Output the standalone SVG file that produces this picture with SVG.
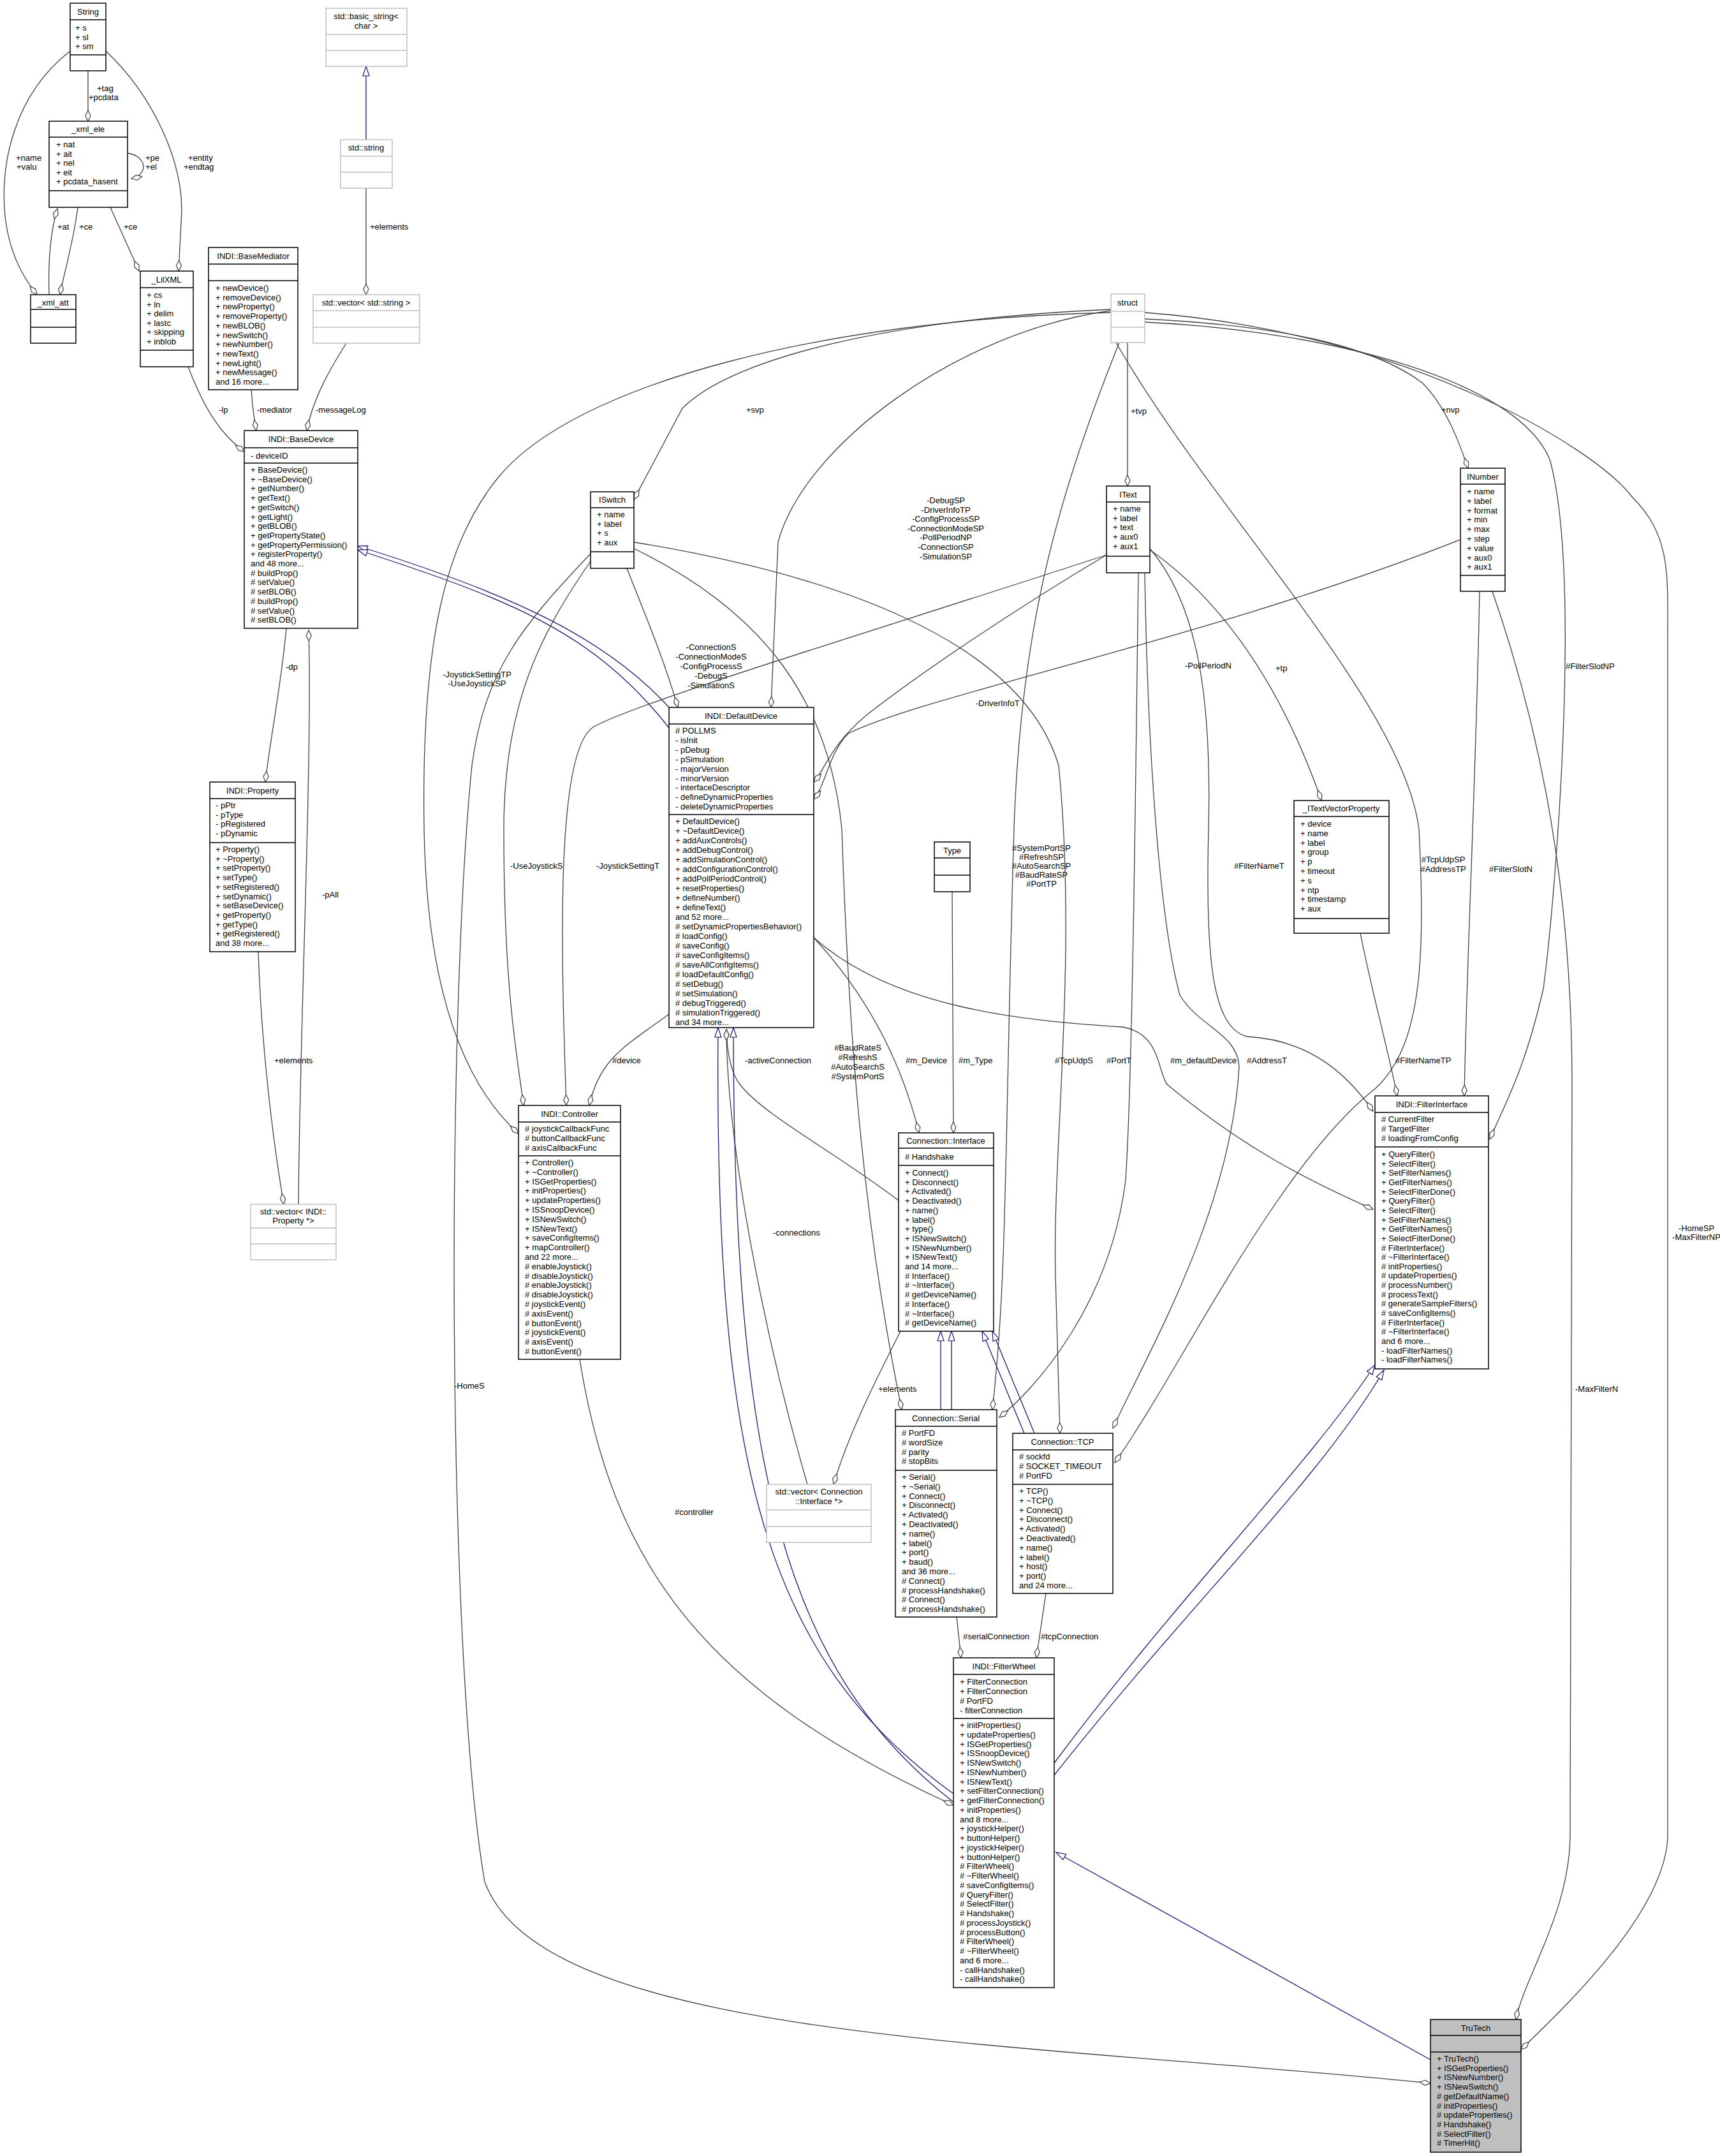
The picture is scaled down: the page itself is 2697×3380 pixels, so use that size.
<svg xmlns="http://www.w3.org/2000/svg" width="2697" height="3380" viewBox="0 0 2697 3380">
<style>
text{font-family:"Liberation Sans",Arial,sans-serif;font-size:13px;fill:#000}
.h{text-anchor:middle}
.b{fill:#fff;stroke:#000;stroke-width:1.5}
.g{fill:#fff;stroke:#bfbfbf;stroke-width:1.5}
.t{fill:#bfbfbf;stroke:#000;stroke-width:1.5}
.e{fill:none;stroke:#404040;stroke-width:1.3;marker-end:url(#dia)}
.i{fill:none;stroke:#191970;stroke-width:1.3;marker-end:url(#tri)}
.l{text-anchor:middle}
</style>
<defs>
<marker id="dia" markerUnits="userSpaceOnUse" markerWidth="20" markerHeight="12" refX="18" refY="5" orient="auto"><path d="M1,5 L9.5,1 L18,5 L9.5,9 z" fill="#fff" stroke="#404040" stroke-width="1.2"/></marker>
<marker id="tri" markerUnits="userSpaceOnUse" markerWidth="18" markerHeight="14" refX="16" refY="6" orient="auto"><path d="M1,1 L16,6 L1,11 z" fill="#fff" stroke="#191970" stroke-width="1.2"/></marker>
</defs>
<rect width="2697" height="3380" fill="#fff"/>

<g id="edges">
<path class="e" d="M138,111 L138,190"/>
<text x="152" y="143">+tag</text><text x="139" y="157">+pcdata</text>
<path class="e" d="M110,80 C20,150 0,260 8,340 C15,400 40,440 58,462"/>
<text x="25" y="252">+name</text><text x="26" y="266">+valu</text>
<path class="e" d="M166,80 C240,150 285,250 285,330 L280,425"/>
<text x="295" y="252">+entity</text><text x="288" y="266">+endtag</text>
<path class="e" d="M200,240 C232,245 232,275 206,280"/>
<text x="228" y="252">+pe</text><text x="228" y="266">+el</text>
<path class="e" d="M77,462 C75,400 80,360 90,327"/>
<text x="90" y="360">+at</text>
<path class="e" d="M122,325 C115,380 100,430 94,462"/>
<text x="124" y="360">+ce</text>
<path class="e" d="M173,325 L218,425"/>
<text x="194" y="360">+ce</text>
<path class="i" d="M574,219 L574,104"/>
<path class="e" d="M574,295 L574,462"/>
<text x="580" y="360">+elements</text>
<path class="e" d="M543,538 C510,590 490,630 481,675"/>
<text x="495" y="647">-messageLog</text>
<path class="e" d="M394,611 C396,640 398,655 402,675"/>
<text x="403" y="647">-mediator</text>
<path class="e" d="M295,575 C320,640 345,680 383,708"/>
<text x="343" y="647">-lp</text>
<path class="e" d="M449,985 C440,1080 425,1150 416,1226"/>
<text x="448" y="1050">-dp</text>
<path class="e" d="M468,1888 C470,1600 490,1200 484,988"/>
<text x="505" y="1407">-pAll</text>
<path class="e" d="M405,1492 C410,1650 430,1800 445,1888"/>
<text x="430" y="1667">+elements</text>
<path class="i" d="M1049,1109 C950,1000 800,930 561,856"/>
<path class="i" d="M1049,1141 C930,990 800,940 561,862"/>
<path class="e" d="M1742,485 C1400,500 1150,560 1070,640 L994,783"/>
<text x="1170" y="647">+svp</text>
<path class="e" d="M1742,487 C1500,520 1260,700 1220,850 L1209,1109"/>
<text class="l" x="1483" y="789">-DebugSP</text><text class="l" x="1483" y="803.6">-DriverInfoTP</text><text class="l" x="1483" y="818.2">-ConfigProcessSP</text><text class="l" x="1483" y="832.8">-ConnectionModeSP</text><text class="l" x="1483" y="847.4">-PollPeriodNP</text><text class="l" x="1483" y="862">-ConnectionSP</text><text class="l" x="1483" y="876.6">-SimulationSP</text>
<path class="e" d="M983,891 C1010,960 1040,1030 1063,1109"/>
<text class="l" x="1115" y="1019">-ConnectionS</text><text class="l" x="1115" y="1034">-ConnectionModeS</text><text class="l" x="1115" y="1049">-ConfigProcessS</text><text class="l" x="1115" y="1064">-DebugS</text><text class="l" x="1115" y="1079">-SimulationS</text>
<path class="e" d="M1735,870 C1600,950 1450,1050 1360,1120 C1300,1170 1295,1205 1276,1226"/>
<text x="1530" y="1107">-DriverInfoT</text>
<path class="e" d="M2290,846 C1900,1000 1450,1090 1330,1150 C1300,1180 1295,1230 1276,1253"/>
<text x="1858" y="1048">-PollPeriodN</text>
<path class="e" d="M1768,537 L1768,762"/>
<text x="1773" y="649">+tvp</text>
<path class="e" d="M1795,500 C2000,510 2150,540 2230,600 C2270,640 2290,700 2302,734"/>
<text x="2260" y="647">+nvp</text>
<path class="e" d="M1803,862 C1900,930 2000,1050 2072,1255"/>
<text x="2000" y="1052">+tp</text>
<path class="e" d="M1742,490 C1300,500 900,600 780,750 C700,850 660,1000 665,1300 C670,1600 750,1720 813,1777"/>
<text class="l" x="748" y="1062">-JoystickSettingTP</text><text class="l" x="748" y="1076">-UseJoystickSP</text>
<path class="e" d="M926,880 C850,990 790,1100 790,1300 C790,1550 810,1650 821,1733"/>
<text x="800" y="1362">-UseJoystickS</text>
<path class="e" d="M926,868 C820,980 760,1050 740,1200 C700,1600 700,2600 760,2950 C850,3200 1600,3200 2243,3266"/>
<text x="712" y="2177">-HomeS</text>
<path class="e" d="M1735,870 C1400,980 1000,1100 930,1140 C870,1180 880,1500 888,1733"/>
<text x="935" y="1362">-JoystickSettingT</text>
<path class="e" d="M1049,1590 C980,1640 940,1660 924,1733"/>
<text x="960" y="1667">#device</text>
<path class="e" d="M1276,1470 C1350,1550 1410,1650 1441,1776"/>
<text x="1420" y="1667">#m_Device</text>
<path class="e" d="M1493,1398 L1495,1776"/>
<text x="1503" y="1667">#m_Type</text>
<path class="e" d="M1409,1882 C1300,1800 1200,1750 1160,1700 C1145,1680 1140,1650 1139,1614"/>
<text x="1168" y="1667">-activeConnection</text>
<path class="e" d="M1266,2327 C1200,2100 1140,1800 1139,1614"/>
<text x="1212" y="1937">-connections</text>
<path class="e" d="M1412,2087 C1370,2170 1330,2250 1307,2327"/>
<text x="1377" y="2182">+elements</text>
<path class="i" d="M1475,2210 L1475,2087"/>
<path class="i" d="M1492,2210 L1492,2087"/>
<path class="i" d="M1606,2247 L1540,2087"/>
<path class="i" d="M1622,2247 L1556,2087"/>
<path class="e" d="M994,860 C1200,960 1300,1100 1320,1300 C1330,1600 1350,1900 1414,2210"/>
<text class="l" x="1345" y="1647">#BaudRateS</text><text class="l" x="1345" y="1662">#RefreshS</text><text class="l" x="1345" y="1677">#AutoSearchS</text><text class="l" x="1345" y="1692">#SystemPortS</text>
<path class="e" d="M1755,537 C1650,800 1600,1000 1590,1300 C1575,1800 1580,2000 1556,2210"/>
<text class="l" x="1633" y="1334">#SystemPortSP</text><text class="l" x="1633" y="1348">#RefreshSP</text><text class="l" x="1633" y="1362">#AutoSearchSP</text><text class="l" x="1633" y="1376">#BaudRateSP</text><text class="l" x="1633" y="1390">#PortTP</text>
<path class="e" d="M1785,898 C1780,1300 1775,1700 1765,1850 C1740,2050 1620,2180 1567,2222"/>
<text x="1735" y="1667">#PortT</text>
<path class="e" d="M994,850 C1300,900 1600,1000 1660,1200 C1690,1500 1650,1800 1655,2000 L1662,2247"/>
<text x="1654" y="1667">#TcpUdpS</text>
<path class="e" d="M1795,898 C1800,1200 1820,1450 1850,1560 C1880,1610 1940,1620 1943,1672 C1930,1900 1800,2120 1745,2239"/>
<text x="1955" y="1667">#AddressT</text>
<path class="e" d="M1750,537 C1900,800 2200,1100 2225,1300 C2235,1500 2230,1640 2156,1707 C2000,1830 1850,2150 1748,2293"/>
<text class="l" x="2263" y="1352">#TcpUdpSP</text><text class="l" x="2263" y="1367">#AddressTP</text>
<path class="e" d="M1803,860 C1880,950 1900,1100 1895,1300 C1890,1500 1900,1610 1955,1625 C2050,1630 2110,1680 2153,1742"/>
<text x="1935" y="1362">#FilterNameT</text>
<path class="e" d="M2133,1463 C2150,1550 2175,1640 2191,1718"/>
<text x="2188" y="1667">#FilterNameTP</text>
<path class="e" d="M2320,927 C2315,1200 2300,1500 2296,1718"/>
<text x="2335" y="1367">#FilterSlotN</text>
<path class="e" d="M1795,505 C2100,520 2380,600 2430,720 C2480,900 2440,1400 2420,1550 C2390,1680 2360,1730 2336,1786"/>
<text x="2455" y="1049">#FilterSlotNP</text>
<path class="e" d="M1276,1470 C1400,1580 1600,1600 1760,1610 C1820,1620 1815,1680 1830,1700 C1950,1800 2050,1850 2153,1896"/>
<text x="1835" y="1667">#m_defaultDevice</text>
<path class="i" d="M1653,2764 C1850,2500 2050,2300 2156,2140"/>
<path class="i" d="M1653,2783 C1860,2520 2070,2320 2170,2148"/>
<path class="i" d="M1495,2812 C1200,2600 1120,2300 1126,1611"/>
<path class="i" d="M1495,2825 C1230,2620 1150,2300 1150,1611"/>
<path class="e" d="M909,2131 C960,2450 1100,2650 1495,2830"/>
<text x="1058" y="2375">#controller</text>
<path class="e" d="M1500,2535 L1507,2599"/>
<text x="1510" y="2570">#serialConnection</text>
<path class="e" d="M1640,2498 L1625,2599"/>
<text x="1632" y="2570">#tcpConnection</text>
<path class="i" d="M2243,3229 L1656,2904"/>
<path class="e" d="M2340,927 C2400,1100 2465,1350 2465,1700 L2462,2880 C2460,3000 2390,3100 2377,3166"/>
<text x="2470" y="2182">-MaxFilterN</text>
<path class="e" d="M1795,490 C2200,520 2500,700 2560,780 C2620,840 2615,900 2615,1000 L2615,2880 C2610,3000 2450,3150 2385,3213"/>
<text class="l" x="2660" y="1930">-HomeSP</text><text class="l" x="2660" y="1944">-MaxFilterNP</text>
</g>

<g id="String"><rect class="b" x="110" y="5" width="56" height="106"/><path d="M110,31H166M110,86H166" stroke="#000" stroke-width="1.5"/><text class="h" x="138" y="23">String</text>
<text><tspan x="118" y="48">+ s</tspan><tspan x="118" dy="14.5">+ sl</tspan><tspan x="118" dy="14.5">+ sm</tspan></text></g>

<g id="xml_ele"><rect class="b" x="77" y="190" width="123" height="135"/><path d="M77,215H200M77,299H200" stroke="#000" stroke-width="1.5"/><text class="h" x="138" y="207">_xml_ele</text>
<text><tspan x="88" y="231">+ nat</tspan><tspan x="88" dy="14.5">+ ait</tspan><tspan x="88" dy="14.5">+ nel</tspan><tspan x="88" dy="14.5">+ eit</tspan><tspan x="88" dy="14.5">+ pcdata_hasent</tspan></text></g>

<g id="xml_att"><rect class="b" x="48" y="462" width="71" height="76"/><path d="M48,485H119M48,513H119" stroke="#000" stroke-width="1.5"/><text class="h" x="83" y="479">_xml_att</text></g>

<g id="LilXML"><rect class="b" x="220" y="425" width="83" height="150"/><path d="M220,451H303M220,549H303" stroke="#000" stroke-width="1.5"/><text class="h" x="261" y="443">_LilXML</text>
<text><tspan x="230" y="467">+ cs</tspan><tspan x="230" dy="14.5">+ ln</tspan><tspan x="230" dy="14.5">+ delim</tspan><tspan x="230" dy="14.5">+ lastc</tspan><tspan x="230" dy="14.5">+ skipping</tspan><tspan x="230" dy="14.5">+ inblob</tspan></text></g>

<g id="BaseMediator"><rect class="b" x="327" y="388" width="140" height="223"/><path d="M327,414H467M327,440H467" stroke="#000" stroke-width="1.5"/><text class="h" x="397" y="406">INDI::BaseMediator</text>
<text><tspan x="338" y="456">+ newDevice()</tspan><tspan x="338" dy="14.7">+ removeDevice()</tspan><tspan x="338" dy="14.7">+ newProperty()</tspan><tspan x="338" dy="14.7">+ removeProperty()</tspan><tspan x="338" dy="14.7">+ newBLOB()</tspan><tspan x="338" dy="14.7">+ newSwitch()</tspan><tspan x="338" dy="14.7">+ newNumber()</tspan><tspan x="338" dy="14.7">+ newText()</tspan><tspan x="338" dy="14.7">+ newLight()</tspan><tspan x="338" dy="14.7">+ newMessage()</tspan><tspan x="338" dy="14.7">and 16 more...</tspan></text></g>

<g id="basic_string"><rect class="g" x="511" y="13" width="127" height="91"/><path d="M511,54H638M511,79H638" stroke="#bfbfbf" stroke-width="1.5"/><text class="h" x="574" y="30">std::basic_string&lt;</text><text class="h" x="574" y="45">char &gt;</text></g>

<g id="std_string"><rect class="g" x="534" y="219" width="81" height="76"/><path d="M534,245H615M534,270H615" stroke="#bfbfbf" stroke-width="1.5"/><text class="h" x="574" y="236">std::string</text></g>

<g id="vector_string"><rect class="g" x="491" y="462" width="167" height="76"/><path d="M491,487H658M491,513H658" stroke="#bfbfbf" stroke-width="1.5"/><text class="h" x="574" y="479">std::vector&lt; std::string &gt;</text></g>

<g id="BaseDevice"><rect class="b" x="383" y="675" width="178" height="310"/><path d="M383,702H561M383,726H561" stroke="#000" stroke-width="1.5"/><text class="h" x="472" y="693">INDI::BaseDevice</text>
<text x="393" y="719">- deviceID</text>
<text><tspan x="393" y="741">+ BaseDevice()</tspan><tspan x="393" dy="14.7">+ ~BaseDevice()</tspan><tspan x="393" dy="14.7">+ getNumber()</tspan><tspan x="393" dy="14.7">+ getText()</tspan><tspan x="393" dy="14.7">+ getSwitch()</tspan><tspan x="393" dy="14.7">+ getLight()</tspan><tspan x="393" dy="14.7">+ getBLOB()</tspan><tspan x="393" dy="14.7">+ getPropertyState()</tspan><tspan x="393" dy="14.7">+ getPropertyPermission()</tspan><tspan x="393" dy="14.7">+ registerProperty()</tspan><tspan x="393" dy="14.7">and 48 more...</tspan><tspan x="393" dy="14.7"># buildProp()</tspan><tspan x="393" dy="14.7"># setValue()</tspan><tspan x="393" dy="14.7"># setBLOB()</tspan><tspan x="393" dy="14.7"># buildProp()</tspan><tspan x="393" dy="14.7"># setValue()</tspan><tspan x="393" dy="14.7"># setBLOB()</tspan></text></g>

<g id="Property"><rect class="b" x="329" y="1226" width="134" height="266"/><path d="M329,1252H463M329,1321H463" stroke="#000" stroke-width="1.5"/><text class="h" x="396" y="1244">INDI::Property</text>
<text><tspan x="338" y="1267">- pPtr</tspan><tspan x="338" dy="14.7">- pType</tspan><tspan x="338" dy="14.7">- pRegistered</tspan><tspan x="338" dy="14.7">- pDynamic</tspan></text>
<text><tspan x="338" y="1336">+ Property()</tspan><tspan x="338" dy="14.7">+ ~Property()</tspan><tspan x="338" dy="14.7">+ setProperty()</tspan><tspan x="338" dy="14.7">+ setType()</tspan><tspan x="338" dy="14.7">+ setRegistered()</tspan><tspan x="338" dy="14.7">+ setDynamic()</tspan><tspan x="338" dy="14.7">+ setBaseDevice()</tspan><tspan x="338" dy="14.7">+ getProperty()</tspan><tspan x="338" dy="14.7">+ getType()</tspan><tspan x="338" dy="14.7">+ getRegistered()</tspan><tspan x="338" dy="14.7">and 38 more...</tspan></text></g>

<g id="vector_property"><rect class="g" x="393" y="1888" width="134" height="87"/><path d="M393,1925H527M393,1950H527" stroke="#bfbfbf" stroke-width="1.5"/><text class="h" x="460" y="1904">std::vector&lt; INDI::</text><text class="h" x="460" y="1918">Property *&gt;</text></g>

<g id="ISwitch"><rect class="b" x="926" y="771" width="68" height="120"/><path d="M926,796H994M926,865H994" stroke="#000" stroke-width="1.5"/><text class="h" x="960" y="788">ISwitch</text>
<text><tspan x="936" y="811">+ name</tspan><tspan x="936" dy="14.7">+ label</tspan><tspan x="936" dy="14.7">+ s</tspan><tspan x="936" dy="14.7">+ aux</tspan></text></g>

<g id="DefaultDevice"><rect class="b" x="1049" y="1109" width="227" height="502"/><path d="M1049,1135H1276M1049,1277H1276" stroke="#000" stroke-width="1.5"/><text class="h" x="1162" y="1127">INDI::DefaultDevice</text>
<text><tspan x="1059" y="1150"># POLLMS</tspan><tspan x="1059" dy="14.9">- isInit</tspan><tspan x="1059" dy="14.9">- pDebug</tspan><tspan x="1059" dy="14.9">- pSimulation</tspan><tspan x="1059" dy="14.9">- majorVersion</tspan><tspan x="1059" dy="14.9">- minorVersion</tspan><tspan x="1059" dy="14.9">- interfaceDescriptor</tspan><tspan x="1059" dy="14.9">- defineDynamicProperties</tspan><tspan x="1059" dy="14.9">- deleteDynamicProperties</tspan></text>
<text><tspan x="1059" y="1292">+ DefaultDevice()</tspan><tspan x="1059" dy="15">+ ~DefaultDevice()</tspan><tspan x="1059" dy="15">+ addAuxControls()</tspan><tspan x="1059" dy="15">+ addDebugControl()</tspan><tspan x="1059" dy="15">+ addSimulationControl()</tspan><tspan x="1059" dy="15">+ addConfigurationControl()</tspan><tspan x="1059" dy="15">+ addPollPeriodControl()</tspan><tspan x="1059" dy="15">+ resetProperties()</tspan><tspan x="1059" dy="15">+ defineNumber()</tspan><tspan x="1059" dy="15">+ defineText()</tspan><tspan x="1059" dy="15">and 52 more...</tspan><tspan x="1059" dy="15"># setDynamicPropertiesBehavior()</tspan><tspan x="1059" dy="15"># loadConfig()</tspan><tspan x="1059" dy="15"># saveConfig()</tspan><tspan x="1059" dy="15"># saveConfigItems()</tspan><tspan x="1059" dy="15"># saveAllConfigItems()</tspan><tspan x="1059" dy="15"># loadDefaultConfig()</tspan><tspan x="1059" dy="15"># setDebug()</tspan><tspan x="1059" dy="15"># setSimulation()</tspan><tspan x="1059" dy="15"># debugTriggered()</tspan><tspan x="1059" dy="15"># simulationTriggered()</tspan><tspan x="1059" dy="15">and 34 more...</tspan></text></g>

<g id="struct"><rect class="g" x="1742" y="461" width="53" height="76"/><path d="M1742,488H1795M1742,513H1795" stroke="#bfbfbf" stroke-width="1.5"/><text class="h" x="1768" y="479">struct</text></g>

<g id="IText"><rect class="b" x="1735" y="762" width="68" height="136"/><path d="M1735,787H1803M1735,872H1803" stroke="#000" stroke-width="1.5"/><text class="h" x="1769" y="780">IText</text>
<text><tspan x="1745" y="802">+ name</tspan><tspan x="1745" dy="14.7">+ label</tspan><tspan x="1745" dy="14.7">+ text</tspan><tspan x="1745" dy="14.7">+ aux0</tspan><tspan x="1745" dy="14.7">+ aux1</tspan></text></g>

<g id="INumber"><rect class="b" x="2290" y="734" width="70" height="193"/><path d="M2290,759H2360M2290,902H2360" stroke="#000" stroke-width="1.5"/><text class="h" x="2325" y="752">INumber</text>
<text><tspan x="2300" y="775">+ name</tspan><tspan x="2300" dy="14.8">+ label</tspan><tspan x="2300" dy="14.8">+ format</tspan><tspan x="2300" dy="14.8">+ min</tspan><tspan x="2300" dy="14.8">+ max</tspan><tspan x="2300" dy="14.8">+ step</tspan><tspan x="2300" dy="14.8">+ value</tspan><tspan x="2300" dy="14.8">+ aux0</tspan><tspan x="2300" dy="14.8">+ aux1</tspan></text></g>

<g id="ITextVectorProperty"><rect class="b" x="2029" y="1255" width="149" height="208"/><path d="M2029,1280H2178M2029,1440H2178" stroke="#000" stroke-width="1.5"/><text class="h" x="2103" y="1272">_ITextVectorProperty</text>
<text><tspan x="2039" y="1296">+ device</tspan><tspan x="2039" dy="14.8">+ name</tspan><tspan x="2039" dy="14.8">+ label</tspan><tspan x="2039" dy="14.8">+ group</tspan><tspan x="2039" dy="14.8">+ p</tspan><tspan x="2039" dy="14.8">+ timeout</tspan><tspan x="2039" dy="14.8">+ s</tspan><tspan x="2039" dy="14.8">+ ntp</tspan><tspan x="2039" dy="14.8">+ timestamp</tspan><tspan x="2039" dy="14.8">+ aux</tspan></text></g>

<g id="Type"><rect class="b" x="1465" y="1320" width="56" height="78"/><path d="M1465,1345H1521M1465,1372H1521" stroke="#000" stroke-width="1.5"/><text class="h" x="1493" y="1338">Type</text></g>

<g id="Controller"><rect class="b" x="813" y="1733" width="160" height="398"/><path d="M813,1759H973M813,1812H973" stroke="#000" stroke-width="1.5"/><text class="h" x="893" y="1751">INDI::Controller</text>
<text><tspan x="823" y="1774"># joystickCallbackFunc</tspan><tspan x="823" dy="14.9"># buttonCallbackFunc</tspan><tspan x="823" dy="14.9"># axisCallbackFunc</tspan></text>
<text><tspan x="823" y="1827">+ Controller()</tspan><tspan x="823" dy="14.8">+ ~Controller()</tspan><tspan x="823" dy="14.8">+ ISGetProperties()</tspan><tspan x="823" dy="14.8">+ initProperties()</tspan><tspan x="823" dy="14.8">+ updateProperties()</tspan><tspan x="823" dy="14.8">+ ISSnoopDevice()</tspan><tspan x="823" dy="14.8">+ ISNewSwitch()</tspan><tspan x="823" dy="14.8">+ ISNewText()</tspan><tspan x="823" dy="14.8">+ saveConfigItems()</tspan><tspan x="823" dy="14.8">+ mapController()</tspan><tspan x="823" dy="14.8">and 22 more...</tspan><tspan x="823" dy="14.8"># enableJoystick()</tspan><tspan x="823" dy="14.8"># disableJoystick()</tspan><tspan x="823" dy="14.8"># enableJoystick()</tspan><tspan x="823" dy="14.8"># disableJoystick()</tspan><tspan x="823" dy="14.8"># joystickEvent()</tspan><tspan x="823" dy="14.8"># axisEvent()</tspan><tspan x="823" dy="14.8"># buttonEvent()</tspan><tspan x="823" dy="14.8"># joystickEvent()</tspan><tspan x="823" dy="14.8"># axisEvent()</tspan><tspan x="823" dy="14.8"># buttonEvent()</tspan></text></g>

<g id="Interface"><rect class="b" x="1409" y="1776" width="149" height="311"/><path d="M1409,1800H1558M1409,1827H1558" stroke="#000" stroke-width="1.5"/><text class="h" x="1483" y="1793">Connection::Interface</text>
<text x="1419" y="1818"># Handshake</text>
<text><tspan x="1419" y="1843">+ Connect()</tspan><tspan x="1419" dy="14.7">+ Disconnect()</tspan><tspan x="1419" dy="14.7">+ Activated()</tspan><tspan x="1419" dy="14.7">+ Deactivated()</tspan><tspan x="1419" dy="14.7">+ name()</tspan><tspan x="1419" dy="14.7">+ label()</tspan><tspan x="1419" dy="14.7">+ type()</tspan><tspan x="1419" dy="14.7">+ ISNewSwitch()</tspan><tspan x="1419" dy="14.7">+ ISNewNumber()</tspan><tspan x="1419" dy="14.7">+ ISNewText()</tspan><tspan x="1419" dy="14.7">and 14 more...</tspan><tspan x="1419" dy="14.7"># Interface()</tspan><tspan x="1419" dy="14.7"># ~Interface()</tspan><tspan x="1419" dy="14.7"># getDeviceName()</tspan><tspan x="1419" dy="14.7"># Interface()</tspan><tspan x="1419" dy="14.7"># ~Interface()</tspan><tspan x="1419" dy="14.7"># getDeviceName()</tspan></text></g>

<g id="vector_iface"><rect class="g" x="1202" y="2327" width="164" height="91"/><path d="M1202,2367H1366M1202,2393H1366" stroke="#bfbfbf" stroke-width="1.5"/><text class="h" x="1284" y="2343">std::vector&lt; Connection</text><text class="h" x="1284" y="2358">::Interface *&gt;</text></g>

<g id="Serial"><rect class="b" x="1404" y="2210" width="159" height="325"/><path d="M1404,2236H1563M1404,2305H1563" stroke="#000" stroke-width="1.5"/><text class="h" x="1483" y="2228">Connection::Serial</text>
<text><tspan x="1414" y="2251"># PortFD</tspan><tspan x="1414" dy="14.8"># wordSize</tspan><tspan x="1414" dy="14.8"># parity</tspan><tspan x="1414" dy="14.8"># stopBits</tspan></text>
<text><tspan x="1414" y="2320">+ Serial()</tspan><tspan x="1414" dy="14.8">+ ~Serial()</tspan><tspan x="1414" dy="14.8">+ Connect()</tspan><tspan x="1414" dy="14.8">+ Disconnect()</tspan><tspan x="1414" dy="14.8">+ Activated()</tspan><tspan x="1414" dy="14.8">+ Deactivated()</tspan><tspan x="1414" dy="14.8">+ name()</tspan><tspan x="1414" dy="14.8">+ label()</tspan><tspan x="1414" dy="14.8">+ port()</tspan><tspan x="1414" dy="14.8">+ baud()</tspan><tspan x="1414" dy="14.8">and 36 more...</tspan><tspan x="1414" dy="14.8"># Connect()</tspan><tspan x="1414" dy="14.8"># processHandshake()</tspan><tspan x="1414" dy="14.8"># Connect()</tspan><tspan x="1414" dy="14.8"># processHandshake()</tspan></text></g>

<g id="TCP"><rect class="b" x="1588" y="2247" width="157" height="251"/><path d="M1588,2273H1745M1588,2327H1745" stroke="#000" stroke-width="1.5"/><text class="h" x="1666" y="2265">Connection::TCP</text>
<text><tspan x="1598" y="2288"># sockfd</tspan><tspan x="1598" dy="14.8"># SOCKET_TIMEOUT</tspan><tspan x="1598" dy="14.8"># PortFD</tspan></text>
<text><tspan x="1598" y="2342">+ TCP()</tspan><tspan x="1598" dy="14.8">+ ~TCP()</tspan><tspan x="1598" dy="14.8">+ Connect()</tspan><tspan x="1598" dy="14.8">+ Disconnect()</tspan><tspan x="1598" dy="14.8">+ Activated()</tspan><tspan x="1598" dy="14.8">+ Deactivated()</tspan><tspan x="1598" dy="14.8">+ name()</tspan><tspan x="1598" dy="14.8">+ label()</tspan><tspan x="1598" dy="14.8">+ host()</tspan><tspan x="1598" dy="14.8">+ port()</tspan><tspan x="1598" dy="14.8">and 24 more...</tspan></text></g>

<g id="FilterInterface"><rect class="b" x="2156" y="1718" width="178" height="428"/><path d="M2156,1744H2334M2156,1798H2334" stroke="#000" stroke-width="1.5"/><text class="h" x="2245" y="1736">INDI::FilterInterface</text>
<text><tspan x="2166" y="1759"># CurrentFilter</tspan><tspan x="2166" dy="15"># TargetFilter</tspan><tspan x="2166" dy="15"># loadingFromConfig</tspan></text>
<text><tspan x="2166" y="1814">+ QueryFilter()</tspan><tspan x="2166" dy="14.65">+ SelectFilter()</tspan><tspan x="2166" dy="14.65">+ SetFilterNames()</tspan><tspan x="2166" dy="14.65">+ GetFilterNames()</tspan><tspan x="2166" dy="14.65">+ SelectFilterDone()</tspan><tspan x="2166" dy="14.65">+ QueryFilter()</tspan><tspan x="2166" dy="14.65">+ SelectFilter()</tspan><tspan x="2166" dy="14.65">+ SetFilterNames()</tspan><tspan x="2166" dy="14.65">+ GetFilterNames()</tspan><tspan x="2166" dy="14.65">+ SelectFilterDone()</tspan><tspan x="2166" dy="14.65"># FilterInterface()</tspan><tspan x="2166" dy="14.65"># ~FilterInterface()</tspan><tspan x="2166" dy="14.65"># initProperties()</tspan><tspan x="2166" dy="14.65"># updateProperties()</tspan><tspan x="2166" dy="14.65"># processNumber()</tspan><tspan x="2166" dy="14.65"># processText()</tspan><tspan x="2166" dy="14.65"># generateSampleFilters()</tspan><tspan x="2166" dy="14.65"># saveConfigItems()</tspan><tspan x="2166" dy="14.65"># FilterInterface()</tspan><tspan x="2166" dy="14.65"># ~FilterInterface()</tspan><tspan x="2166" dy="14.65">and 6 more...</tspan><tspan x="2166" dy="14.65">- loadFilterNames()</tspan><tspan x="2166" dy="14.65">- loadFilterNames()</tspan></text></g>

<g id="FilterWheel"><rect class="b" x="1495" y="2599" width="158" height="517"/><path d="M1495,2625H1653M1495,2694H1653" stroke="#000" stroke-width="1.5"/><text class="h" x="1574" y="2617">INDI::FilterWheel</text>
<text><tspan x="1505" y="2641">+ FilterConnection</tspan><tspan x="1505" dy="14.9">+ FilterConnection</tspan><tspan x="1505" dy="14.9"># PortFD</tspan><tspan x="1505" dy="14.9">- filterConnection</tspan></text>
<text><tspan x="1505" y="2709">+ initProperties()</tspan><tspan x="1505" dy="14.75">+ updateProperties()</tspan><tspan x="1505" dy="14.75">+ ISGetProperties()</tspan><tspan x="1505" dy="14.75">+ ISSnoopDevice()</tspan><tspan x="1505" dy="14.75">+ ISNewSwitch()</tspan><tspan x="1505" dy="14.75">+ ISNewNumber()</tspan><tspan x="1505" dy="14.75">+ ISNewText()</tspan><tspan x="1505" dy="14.75">+ setFilterConnection()</tspan><tspan x="1505" dy="14.75">+ getFilterConnection()</tspan><tspan x="1505" dy="14.75">+ initProperties()</tspan><tspan x="1505" dy="14.75">and 8 more...</tspan><tspan x="1505" dy="14.75">+ joystickHelper()</tspan><tspan x="1505" dy="14.75">+ buttonHelper()</tspan><tspan x="1505" dy="14.75">+ joystickHelper()</tspan><tspan x="1505" dy="14.75">+ buttonHelper()</tspan><tspan x="1505" dy="14.75"># FilterWheel()</tspan><tspan x="1505" dy="14.75"># ~FilterWheel()</tspan><tspan x="1505" dy="14.75"># saveConfigItems()</tspan><tspan x="1505" dy="14.75"># QueryFilter()</tspan><tspan x="1505" dy="14.75"># SelectFilter()</tspan><tspan x="1505" dy="14.75"># Handshake()</tspan><tspan x="1505" dy="14.75"># processJoystick()</tspan><tspan x="1505" dy="14.75"># processButton()</tspan><tspan x="1505" dy="14.75"># FilterWheel()</tspan><tspan x="1505" dy="14.75"># ~FilterWheel()</tspan><tspan x="1505" dy="14.75">and 6 more...</tspan><tspan x="1505" dy="14.75">- callHandshake()</tspan><tspan x="1505" dy="14.75">- callHandshake()</tspan></text></g>

<g id="TruTech"><rect class="t" x="2243" y="3166" width="142" height="208"/><path d="M2243,3191H2385M2243,3217H2385" stroke="#000" stroke-width="1.5"/><text class="h" x="2314" y="3184">TruTech</text>
<text><tspan x="2253" y="3232">+ TruTech()</tspan><tspan x="2253" dy="14.7">+ ISGetProperties()</tspan><tspan x="2253" dy="14.7">+ ISNewNumber()</tspan><tspan x="2253" dy="14.7">+ ISNewSwitch()</tspan><tspan x="2253" dy="14.7"># getDefaultName()</tspan><tspan x="2253" dy="14.7"># initProperties()</tspan><tspan x="2253" dy="14.7"># updateProperties()</tspan><tspan x="2253" dy="14.7"># Handshake()</tspan><tspan x="2253" dy="14.7"># SelectFilter()</tspan><tspan x="2253" dy="14.7"># TimerHit()</tspan></text></g>
</svg>
